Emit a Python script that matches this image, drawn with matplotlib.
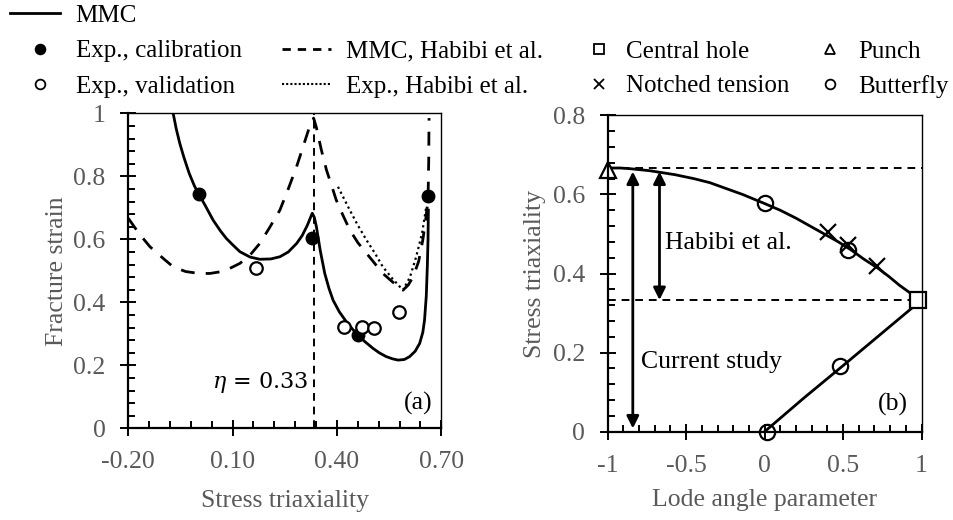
import matplotlib
matplotlib.use("Agg")
import matplotlib.pyplot as plt
from matplotlib.lines import Line2D

plt.rcParams['font.family'] = ['Liberation Serif', 'DejaVu Serif']
plt.rcParams['mathtext.fontset'] = 'dejavuserif'

GRAY = '#595959'
FS = 18.5
LEG_FS = 18

# ---- panel (a): fracture strain vs stress triaxiality ----
mmc_eta = [-0.071, -0.062, -0.052, -0.040, -0.025, -0.010, 0.003, 0.020, 0.044, 0.065,
           0.082, 0.100, 0.121, 0.150, 0.178, 0.210, 0.236, 0.260, 0.284, 0.300,
           0.315, 0.329, 0.335, 0.341, 0.352, 0.365, 0.377, 0.389, 0.407, 0.427,
           0.445, 0.461, 0.480, 0.504, 0.522, 0.542, 0.560, 0.576, 0.594, 0.609,
           0.625, 0.638, 0.647, 0.652, 0.657, 0.660, 0.662, 0.663]
mmc_eps = [1.000, 0.950, 0.905, 0.860, 0.810, 0.770, 0.743, 0.710, 0.661, 0.627,
           0.603, 0.583, 0.561, 0.544, 0.537, 0.538, 0.545, 0.560, 0.587, 0.612,
           0.645, 0.683, 0.670, 0.640, 0.565, 0.492, 0.445, 0.407, 0.370, 0.339,
           0.315, 0.296, 0.276, 0.254, 0.240, 0.228, 0.221, 0.217, 0.219, 0.228,
           0.245, 0.270, 0.305, 0.344, 0.420, 0.513, 0.600, 0.693]

hab_eta = [-0.200, -0.170, -0.138, -0.100, -0.071, -0.035, 0.003, 0.035, 0.063, 0.090,
           0.121, 0.150, 0.178, 0.205, 0.236, 0.260, 0.284, 0.300, 0.312, 0.322,
           0.333, 0.341, 0.355, 0.370, 0.385, 0.398, 0.418, 0.437, 0.460, 0.485,
           0.510, 0.532, 0.560, 0.590, 0.605, 0.619, 0.635, 0.647, 0.655, 0.662,
           0.664, 0.665]
hab_eps = [0.667, 0.620, 0.577, 0.540, 0.513, 0.498, 0.492, 0.492, 0.497, 0.507,
           0.524, 0.550, 0.587, 0.635, 0.693, 0.760, 0.831, 0.885, 0.926, 0.960,
           0.985, 0.955, 0.885, 0.820, 0.770, 0.725, 0.675, 0.630, 0.590, 0.556,
           0.522, 0.492, 0.465, 0.439, 0.455, 0.481, 0.530, 0.598, 0.660, 0.725,
           0.850, 0.985]

hab_exp_eta = [0.403, 0.420, 0.437, 0.460, 0.485, 0.510, 0.532, 0.560, 0.590, 0.610,
               0.628, 0.645, 0.657]
hab_exp_eps = [0.767, 0.730, 0.693, 0.645, 0.598, 0.555, 0.513, 0.475, 0.439, 0.480,
               0.545, 0.620, 0.704]

calib_eta = [0.003, 0.329, 0.462, 0.661]
calib_eps = [0.743, 0.603, 0.296, 0.739]

valid_eta = [0.167, 0.420, 0.472, 0.507, 0.578]
valid_eps = [0.510, 0.323, 0.323, 0.320, 0.370]

eta_uniax = 0.333
a_xticks = [-0.2, 0.1, 0.4, 0.7]
a_xlabels = ['-0.20', '0.10', '0.40', '0.70']
a_yticks = [0, 0.2, 0.4, 0.6, 0.8, 1.0]
a_ylabels = ['0', '0.2', '0.4', '0.6', '0.8', '1']

# ---- panel (b): stress triaxiality vs Lode angle parameter ----
upper_lode = [-1.0, -0.92, -0.85, -0.73, -0.57, -0.45, -0.35, -0.14, 0.0, 0.1,
              0.2, 0.29, 0.38, 0.47, 0.55, 0.63, 0.72, 0.79, 0.86, 0.93, 1.0]
upper_eta = [0.667, 0.667, 0.665, 0.660, 0.650, 0.640, 0.630, 0.600, 0.577, 0.560,
             0.540, 0.520, 0.500, 0.480, 0.460, 0.437, 0.414, 0.393, 0.370, 0.350, 0.333]
lower_lode = [0.0, 0.25, 0.5, 0.75, 1.0]
lower_eta = [0.0, 0.085, 0.167, 0.250, 0.333]

punch_lode, punch_eta = [-1.0], [0.662]
hole_lode, hole_eta = [0.98], [0.333]
notched_lode = [0.406, 0.533, 0.713]
notched_eta = [0.506, 0.473, 0.418]
butterfly_lode = [0.002, 0.533, 0.480, 0.013]
butterfly_eta = [0.578, 0.460, 0.167, 0.0]

eta_biax = 0.667
current_study = (-0.84, 0.008, 0.658)
habibi_range = (-0.67, 0.333, 0.658)
b_xticks = [-1, -0.5, 0, 0.5, 1]
b_xlabels = ['-1', '-0.5', '0', '0.5', '1']
b_yticks = [0, 0.2, 0.4, 0.6, 0.8]
b_ylabels = ['0', '0.2', '0.4', '0.6', '0.8']

fig = plt.figure(figsize=(9.54, 5.2), dpi=100)
ax1 = fig.add_axes([0.1345, 0.176, 0.328, 0.606])
ax2 = fig.add_axes([0.637, 0.170, 0.329, 0.608])


def style_axes(ax, minor_x, minor_y):
    for s in ax.spines.values():
        s.set_color('black')
        s.set_linewidth(1.0)
    ax.spines['left'].set_linewidth(1.6)
    ax.spines['bottom'].set_linewidth(1.6)
    ax.set_xticks(minor_x, minor=True)
    ax.set_yticks(minor_y, minor=True)
    ax.tick_params(which='major', direction='inout', length=11, width=1.4,
                   labelsize=FS, labelcolor=GRAY, top=False, right=False)
    ax.tick_params(which='minor', direction='in', length=5, width=1.4,
                   top=False, right=False)
    ax.tick_params(axis='x', which='major', pad=11)
    ax.tick_params(axis='y', which='major', pad=11)


# panel (a)
ax1.plot(mmc_eta, mmc_eps, color='black', lw=2)
ax1.plot(hab_eta, hab_eps, color='black', lw=2, ls=(0, (5, 4)))
ax1.plot(hab_exp_eta, hab_exp_eps, color='black', lw=1.6, ls=(0, (1, 1.5)))
ax1.axvline(eta_uniax, color='black', lw=1.4, ls=(0, (4, 3)))
ax1.plot(calib_eta, calib_eps, 'o', color='black', ms=9, clip_on=False)
ax1.plot(valid_eta, valid_eps, 'o', mfc='white', mec='black', mew=1.6, ms=9)
ax1.text(0.318, 0.145, r'$\eta$ = 0.33', ha='right', va='center', fontsize=16,
         family='DejaVu Serif')
ax1.text(0.675, 0.08, '(a)', ha='right', va='center', fontsize=FS)
ax1.set_xticks(a_xticks, a_xlabels)
ax1.set_yticks(a_yticks, a_ylabels)
ax1.set_xlim(-0.2, 0.7)
ax1.set_ylim(0, 1)
style_axes(ax1, [-0.2 + 0.06 * i for i in range(16)], [0.04 * i for i in range(26)])
ax1.set_xlabel('Stress triaxiality', fontsize=FS, color=GRAY, labelpad=12)
ax1.set_ylabel('Fracture strain', fontsize=FS, color=GRAY, labelpad=4)

# panel (b)
ax2.axhline(eta_biax, color='black', lw=1.4, ls=(0, (4, 3)))
ax2.axhline(eta_uniax, color='black', lw=1.4, ls=(0, (4, 3)))
ax2.plot(upper_lode, upper_eta, color='black', lw=2)
ax2.plot(lower_lode, lower_eta, color='black', lw=2)
ax2.plot(punch_lode, punch_eta, '^', mfc='white', mec='black', mew=1.6, ms=12, clip_on=False)
ax2.plot(hole_lode, hole_eta, 's', mfc='white', mec='black', mew=1.6, ms=11, clip_on=False)
ax2.plot(notched_lode, notched_eta, 'x', color='black', mew=1.6, ms=11)
ax2.plot(butterfly_lode, butterfly_eta, 'o', mfc='none', mec='black', mew=1.6, ms=11,
         clip_on=False)
for x, y0, y1 in (current_study, habibi_range):
    ax2.annotate('', xy=(x, y0), xytext=(x, y1),
                 arrowprops=dict(arrowstyle='<|-|>', color='black', lw=2,
                                 mutation_scale=18, shrinkA=0, shrinkB=0))
ax2.text(-0.635, 0.477, 'Habibi et al.', ha='left', va='center', fontsize=FS)
ax2.text(-0.785, 0.177, 'Current study', ha='left', va='center', fontsize=FS)
ax2.text(0.91, 0.068, '(b)', ha='right', va='center', fontsize=FS)
ax2.set_xticks(b_xticks, b_xlabels)
ax2.set_yticks(b_yticks, b_ylabels)
ax2.set_xlim(-1, 1)
ax2.set_ylim(0, 0.8)
style_axes(ax2, [-1 + 0.1 * i for i in range(21)], [0.04 * i for i in range(21)])
ax2.set_xlabel('Lode angle parameter', fontsize=FS, color=GRAY, labelpad=9)
ax2.set_ylabel('Stress triaxiality', fontsize=FS, color=GRAY, labelpad=5)

# ---- legends (one per column, placed in figure pixels) ----
W, H = 954.0, 520.0


def column_legend(handles, labels, x_px, y_px, hlen, pad):
    fig.legend(handles, labels, loc='upper left',
               bbox_to_anchor=(x_px / W, 1 - y_px / H), borderaxespad=0,
               borderpad=0, frameon=False, fontsize=LEG_FS, handlelength=hlen,
               handletextpad=pad, labelspacing=0.5)


column_legend([Line2D([], [], color='black', lw=2)], ['MMC'], 10, 4, 2.0, 0.6)

dot = dict(ls='none', mec='black', mew=1.3, ms=7)
column_legend([Line2D([], [], marker='o', mfc='black', **dot),
               Line2D([], [], marker='o', mfc='white', **dot)],
              ['Exp., calibration', 'Exp., validation'], 27, 40, 1.0, 0.95)
column_legend([Line2D([], [], color='black', lw=2, ls=(0, (3, 2.5))),
               Line2D([], [], color='black', lw=1.5, ls=(0, (1, 1)))],
              ['MMC, Habibi et al.', 'Exp., Habibi et al.'], 282, 40, 1.95, 0.6)
column_legend([Line2D([], [], marker='s', mfc='white', **dot),
               Line2D([], [], marker='x', mfc='black', **dot)],
              ['Central hole', 'Notched tension'], 586, 40, 1.0, 0.6)
column_legend([Line2D([], [], marker='^', mfc='white', **dot),
               Line2D([], [], marker='o', mfc='white', **dot)],
              ['Punch', 'Butterfly'], 818, 40, 1.0, 0.6)

fig.savefig('out.png', dpi=100)
